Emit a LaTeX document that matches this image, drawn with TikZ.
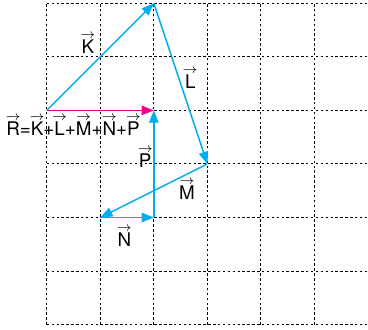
\documentclass[tikz,border=0pt]{standalone}
\usepackage{fontspec}
\setmainfont{TeX Gyre Heros}
\usetikzlibrary{arrows.meta}
\definecolor{vblue}{RGB}{0,174,239}
\definecolor{vmag}{RGB}{236,0,140}
\newcommand{\vv}[1]{{\setbox0\hbox{#1}\makebox[0pt][l]{\makebox[\wd0][c]{\raisebox{\dimexpr\ht0+0.6pt\relax}{$\scriptstyle\rightarrow$}}}\box0}}
\begin{document}
\begin{tikzpicture}[x=1cm,y=1cm,
  gridline/.style={black,line width=0.5pt,dash pattern=on 1.3pt off 1.3pt},
  vecarrow/.style={vblue,line width=0.8pt,-{Triangle[length=6.5pt,width=5pt]}},
  resarrow/.style={vmag,line width=0.8pt,-{Triangle[length=6.5pt,width=5pt]}},
  lbl/.style={font=\fontsize{10}{12}\selectfont,inner sep=0pt}]
\useasboundingbox (-0.873,-0.088) rectangle (6,6.062);
\draw[gridline] (0,0) grid (6,6);
\coordinate (O) at (0,4);
\coordinate (A) at (2,6);
\coordinate (B) at (3,3);
\coordinate (C) at (1,2);
\coordinate (D) at (2,2);
\coordinate (E) at (2,4);
\draw[vecarrow] (O) -- (A);
\draw[vecarrow] (A) -- (B);
\draw[vecarrow] (B) -- (C);
\draw[vecarrow] (C) -- (D);
\draw[vecarrow] (D) -- (E);
\draw[resarrow] (O) -- (E);
\node[lbl] (lK) at (0.77,5.25) {\vv{K}};
\node[lbl] (lL) at (2.68,4.6) {\vv{L}};
\node[lbl] (lP) at (1.84,3.12) {\vv{P}};
\node[lbl] (lM) at (2.62,2.52) {\vv{M}};
\node[lbl] (lN) at (1.45,1.65) {\vv{N}};
\node[lbl] (lR) at (0.49,3.72) {\vv{R}=\vv{K}+\vv{L}+\vv{M}+\vv{N}+\vv{P}};
\end{tikzpicture}
\end{document}
